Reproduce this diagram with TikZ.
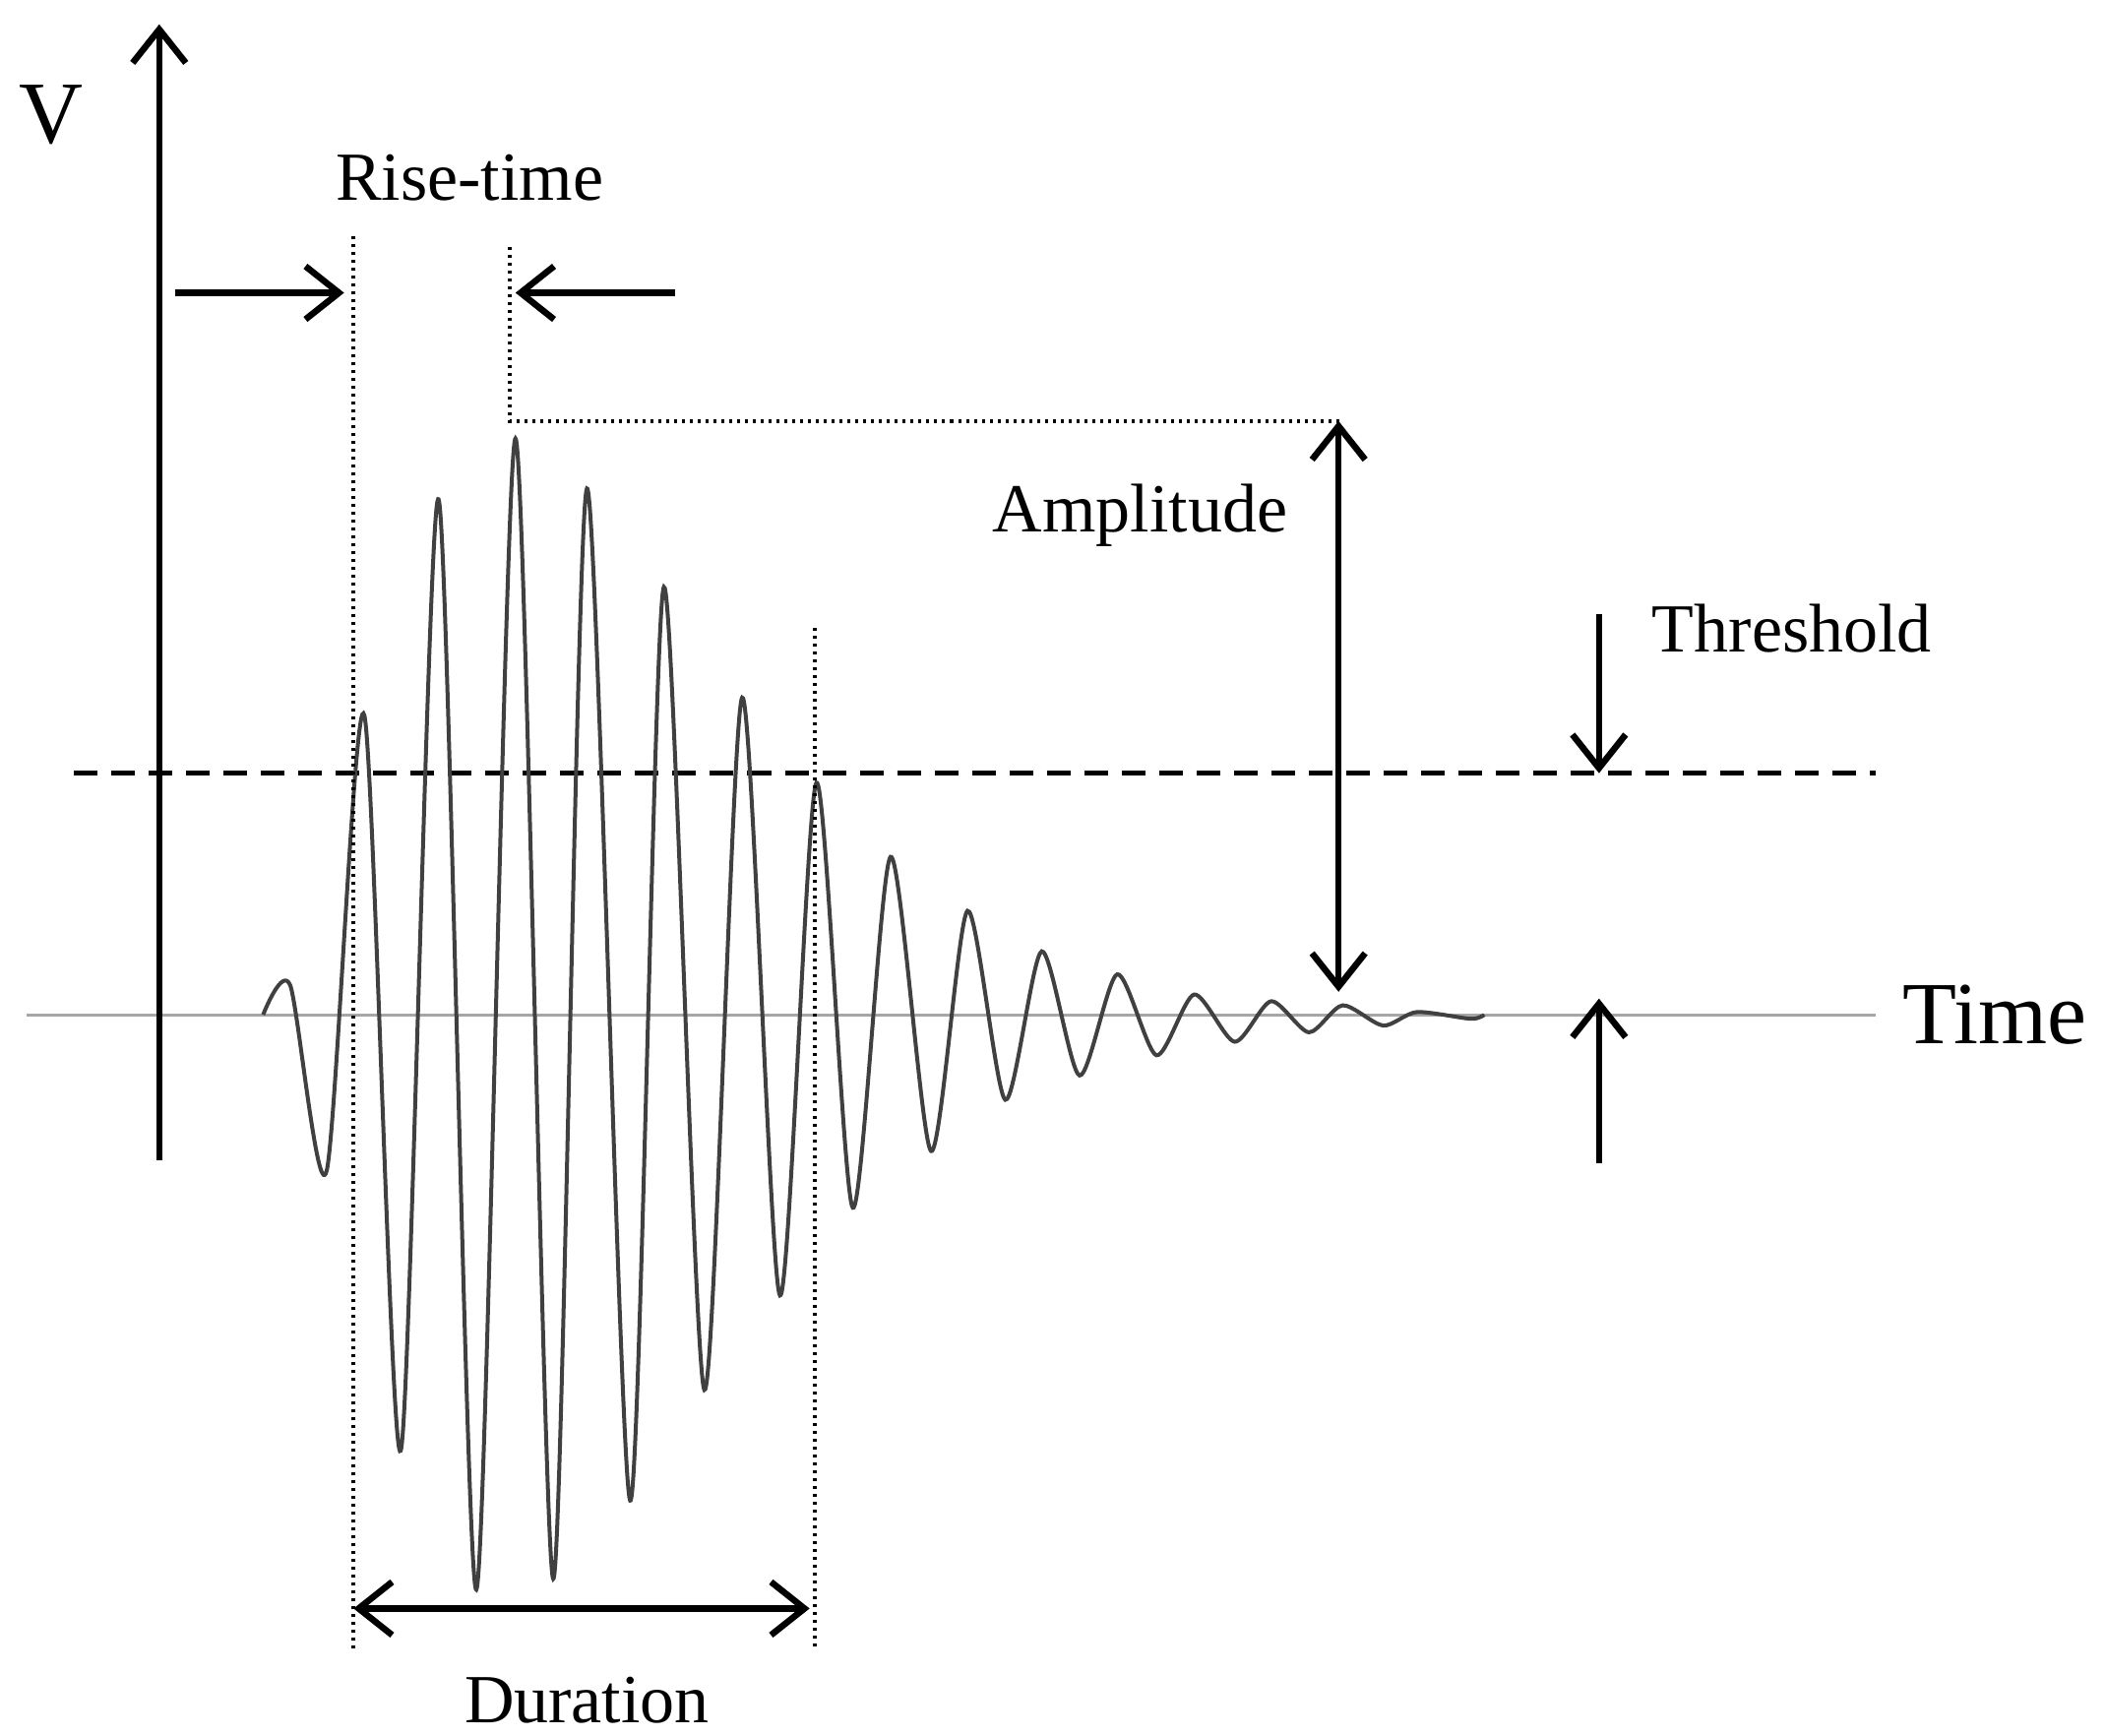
\documentclass[tikz,border=0pt]{standalone}
\usepackage{fontspec}
\setmainfont{Liberation Serif}
\usetikzlibrary{arrows.meta}
\begin{document}
\begin{tikzpicture}[x=1.371pt,y=-1.371pt,
  arr/.style={line width=6.5pt,-{Straight Barb[length=34pt,width=54pt,line width=6.5pt]}},
  darr/.style={line width=6.5pt,{Straight Barb[length=34pt,width=54pt,line width=6.5pt]}-{Straight Barb[length=34pt,width=54pt,line width=6.5pt]}},
  dots/.style={line width=4pt,dash pattern=on 3pt off 5pt},
  lbl/.style={font=\fontsize{70}{76}\selectfont,inner sep=0pt},
  big/.style={font=\fontsize{90}{96}\selectfont,inner sep=0pt}]
\useasboundingbox (0,0) rectangle (1560,1286);
\coordinate (vb) at (118,860); \coordinate (vt) at (118,18);
\coordinate (r1a) at (130,217); \coordinate (r1b) at (255,217);
\coordinate (r2a) at (500,217); \coordinate (r2b) at (382,217);
\coordinate (d1t) at (262,175); \coordinate (d1b) at (262,1222);
\coordinate (d2t) at (378,183); \coordinate (d2c) at (378,312); \coordinate (d2r) at (995,312);
\coordinate (d3t) at (604,465); \coordinate (d3b) at (604,1222);
\coordinate (at) at (992,312); \coordinate (ab) at (992,735);
\coordinate (thl) at (55,573); \coordinate (thr) at (1390,573);
\coordinate (tda) at (1185,455); \coordinate (tdb) at (1185,573);
\coordinate (tua) at (1185,862); \coordinate (tub) at (1185,740);
\coordinate (bl) at (20,752); \coordinate (br) at (1390,752);
\coordinate (du1) at (262,1192); \coordinate (du2) at (600,1192);
\draw[gray!70,line width=3pt] (bl) -- (br);
\draw[line width=5pt,dash pattern=on 24pt off 14pt] (thl) -- (thr);
\draw[black!75,line width=4pt] plot[smooth,tension=0.45] coordinates{
(195,752)(215,730)(242,868)(270,530)(297,1075)(325,370)(353,1178)(382,325)(410,1170)(435,362)(467,1112)(492,435)(522,1030)(550,517)(578,960)(605,580)(632,895)(660,635)(690,853)(717,675)(745,815)(772,705)(800,797)(828,722)(857,782)(885,737)(915,772)(942,742)(970,765)(995,745)(1025,760)(1050,750)(1090,755)(1100,752)};
\draw[arr] (vb) -- (vt);
\node[big] (V) at (38,85) {V};
\node[big] (T) at (1478,752) {Time};
\draw[dots] (d1t) -- (d1b);
\draw[dots] (d2t) -- (d2c) -- (d2r);
\draw[dots] (d3t) -- (d3b);
\draw[arr] (r1a) -- (r1b);
\draw[arr] (r2a) -- (r2b);
\draw[darr] (at) -- (ab);
\draw[arr] (tda) -- (tdb);
\draw[arr] (tua) -- (tub);
\draw[darr] (du1) -- (du2);
\node[lbl] (rt) at (348,132) {Rise-time};
\node[lbl] (am) at (845,382) {Amplitude};
\node[lbl] (th) at (1328,466) {Threshold};
\node[lbl] (du) at (435,1260) {Duration};
\end{tikzpicture}
\end{document}
